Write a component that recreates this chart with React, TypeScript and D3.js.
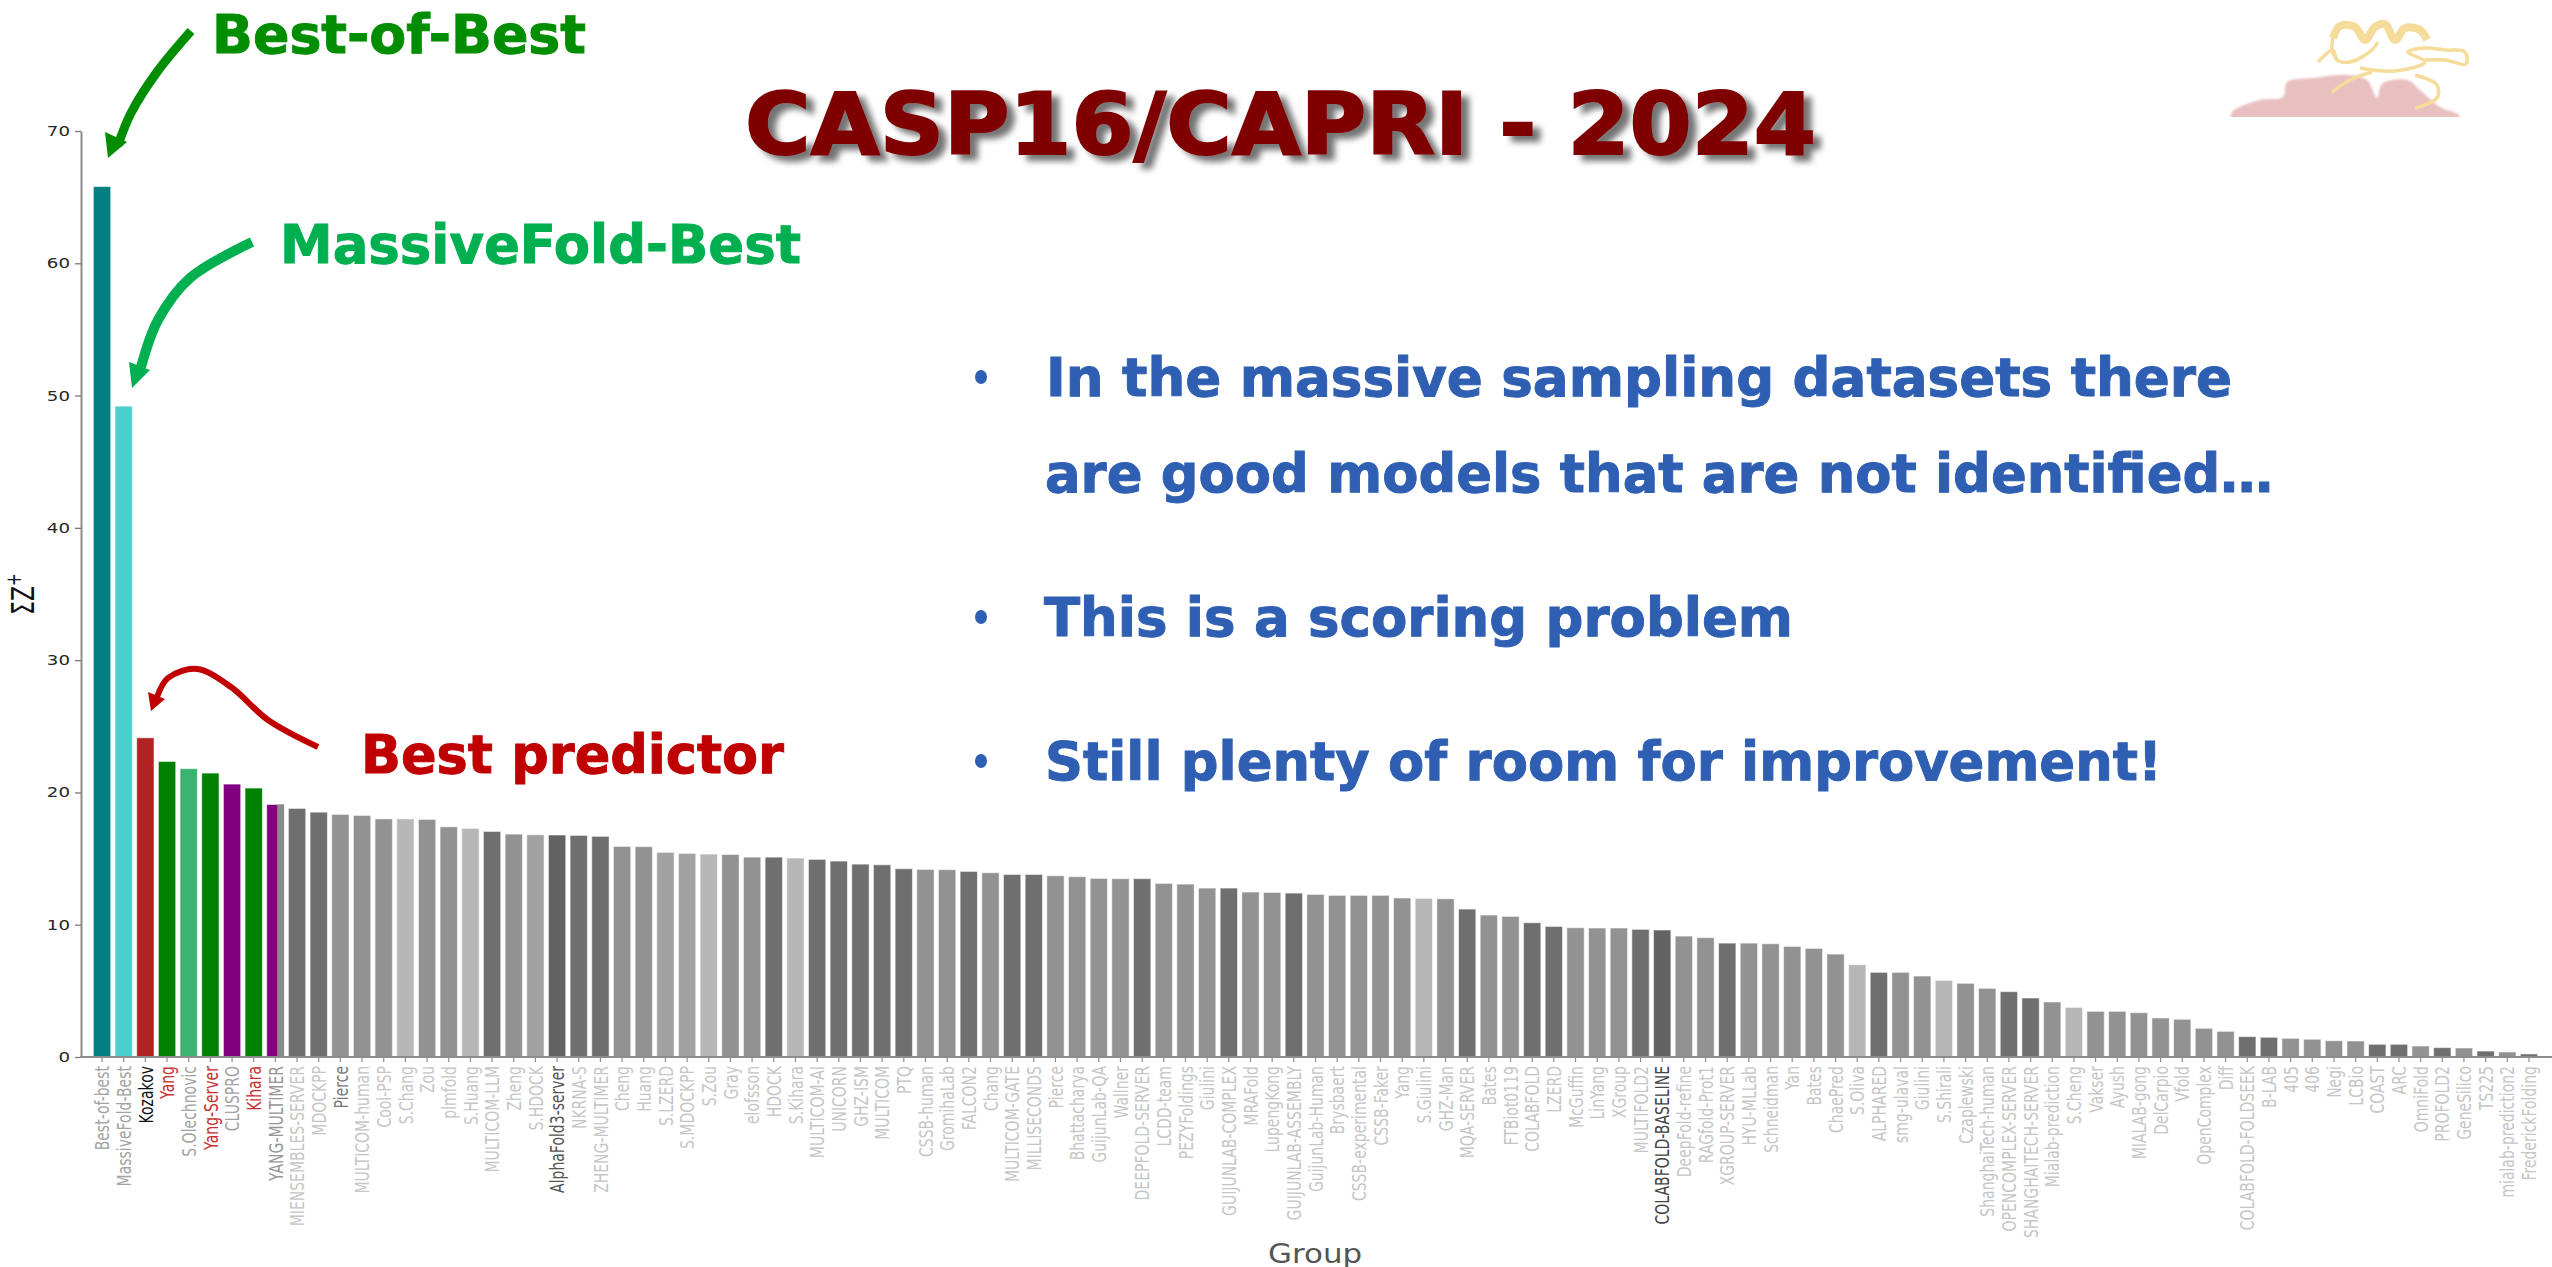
import React, { useEffect, useRef } from 'react';
import * as d3 from 'd3';

const groups = [
  'Best-of-best', 'MassiveFold-Best', 'Kozakov', 'Yang', 'S.Olechnovic', 'Yang-Server', 'CLUSPRO', 'Kihara', 'YANG-MULTIMER', 'MIENSEMBLES-SERVER',
  'MDOCKPP', 'Pierce', 'MULTICOM-human', 'Cool-PSP', 'S.Chang', 'Zou', 'plmfold', 'S.Huang', 'MULTICOM-LLM', 'Zheng',
  'S.HDOCK', 'AlphaFold3-server', 'NKRNA-S', 'ZHENG-MULTIMER', 'Cheng', 'Huang', 'S.LZERD', 'S.MDOCKPP', 'S.Zou', 'Gray',
  'elofsson', 'HDOCK', 'S.Kihara', 'MULTICOM-AI', 'UNICORN', 'GHZ-ISM', 'MULTICOM', 'PTQ', 'CSSB-human', 'GromihaLab',
  'FALCON2', 'Chang', 'MULTICOM-GATE', 'MILLISECONDS', 'Pierce', 'Bhattacharya', 'GuijunLab-QA', 'Wallner', 'DEEPFOLD-SERVER', 'LCDD-team',
  'PEZYFoldings', 'Giulini', 'GUIJUNLAB-COMPLEX', 'MRAFold', 'LupengKong', 'GUIJUNLAB-ASSEMBLY', 'GuijunLab-Human', 'Brysbaert', 'CSSB-experimental', 'CSSB-Faker',
  'Yang', 'S.Giulini', 'GHZ-Man', 'MQA-SERVER', 'Bates', 'FTBiot0119', 'COLABFOLD', 'LZERD', 'McGuffin', 'LinYang',
  'XGroup', 'MULTIFOLD2', 'COLABFOLD-BASELINE', 'DeepFold-refine', 'RAGfold-Prot1', 'XGROUP-SERVER', 'HYU-MLLab', 'Schneidman', 'Yan', 'Bates',
  'ChaePred', 'S.Oliva', 'ALPHARED', 'smg-ulaval', 'Giulini', 'S.Shirali', 'Czaplewski', 'ShanghaiTech-human', 'OPENCOMPLEX-SERVER', 'SHANGHAITECH-SERVER',
  'Mialab-prediction', 'S.Cheng', 'Vakser', 'Ayush', 'MIALAB-gong', 'DelCarpio', 'Vfold', 'OpenComplex', 'Diff', 'COLABFOLD-FOLDSEEK',
  'B-LAB', '405', '406', 'Negi', 'LCBio', 'COAST', 'ARC', 'OmniFold', 'PROFOLD2', 'GeneSilico',
  'TS225', 'mialab-prediction2', 'FrederickFolding',
];

const scores = [
  65.8, 49.2, 24.13, 22.34, 21.8, 21.46, 20.63, 20.33, 19.09, 18.79,
  18.51, 18.34, 18.26, 18.0, 18.0, 17.96, 17.4, 17.28, 17.05, 16.85,
  16.8, 16.78, 16.75, 16.68, 15.92, 15.9, 15.47, 15.39, 15.34, 15.31,
  15.11, 15.11, 15.04, 14.94, 14.81, 14.58, 14.53, 14.23, 14.18, 14.16,
  14.03, 13.93, 13.8, 13.8, 13.7, 13.63, 13.5, 13.48, 13.48, 13.12,
  13.07, 12.77, 12.77, 12.47, 12.44, 12.39, 12.29, 12.22, 12.22, 12.22,
  12.02, 11.99, 11.96, 11.18, 10.73, 10.63, 10.15, 9.87, 9.77, 9.75,
  9.75, 9.65, 9.6, 9.14, 9.02, 8.61, 8.61, 8.56, 8.36, 8.21,
  7.78, 6.98, 6.4, 6.4, 6.12, 5.79, 5.57, 5.19, 4.94, 4.46,
  4.16, 3.75, 3.45, 3.45, 3.35, 2.95, 2.85, 2.17, 1.94, 1.54,
  1.49, 1.41, 1.34, 1.23, 1.21, 0.96, 0.96, 0.83, 0.71, 0.68,
  0.45, 0.38, 0.23,
];

// one letter per bar, ten to a row like groups and scores
const barTones = [
  'TCFGSGPGMd',
  'dmmmlmmldm',
  'axddmmaalm',
  'mdldddddmm',
  'dmddmmmmdm',
  'mmdmmdmmmm',
  'mlmdmmddmm',
  'mdxmmdmmmm',
  'mldmmlmmdd',
  'mlmmmmmmmd',
  'dmmmmddmdm',
  'dmd',
].join('');

const toneColors = {
  T: '#008080', C: '#48d1cc', F: '#b22222', G: '#008000', S: '#3cb371', P: '#800080', M: '#800080',
  x: '#636363', d: '#6f6f6f', m: '#929292', a: '#a2a2a2', l: '#b7b7b7',
};

const labelColors = {
  'Best-of-best': '#a3a3a3', 'MassiveFold-Best': '#a3a3a3', Kozakov: '#111111', 'S.Olechnovic': '#a3a3a3', CLUSPRO: '#a3a3a3',
  'YANG-MULTIMER': '#969696', 'AlphaFold3-server': '#555555', 'COLABFOLD-BASELINE': '#444444',
};
const redLabels = [3, 5, 7];
const midLabels = [11];

const yTicks = [0, 10, 20, 30, 40, 50, 60, 70];

const bulletLines = [
  { text: 'In the massive sampling datasets there', y: 396, x0: 1046, x1: 2232, bullet: true },
  { text: 'are good models that are not identified…', y: 492, x0: 1045, x1: 2273, bullet: false },
  { text: 'This is a scoring problem', y: 636, x0: 1044, x1: 1793, bullet: true },
  { text: 'Still plenty of room for improvement!', y: 780, x0: 1045, x1: 2162, bullet: true },
];

const callouts = [
  { text: 'Best-of-Best', x0: 212, x1: 586, y: 53, size: 53, color: '#008e00' },
  { text: 'MassiveFold-Best', x0: 280, x1: 801, y: 263, size: 53, color: '#00b050' },
  { text: 'Best predictor', x0: 361, x1: 784, y: 773, size: 53, color: '#c00000' },
];

const arrows = [
  { color: '#008e00', width: 9, pts: [[191, 31], [157, 72], [131, 113], [118, 145]], head: [[108, 158], [105, 132], [127, 142]] },
  { color: '#00b050', width: 10, pts: [[252, 242], [190, 278], [158, 320], [141, 367]], head: [[132, 388], [129, 362], [150, 370]] },
  { color: '#c00000', width: 6, pts: [[318, 747], [268, 720], [231, 687], [197, 669], [168, 678], [157, 697]], head: [[151, 711], [148, 692], [165, 699]] },
];

const logoOutline = [
  [2232, 112], [2260, 100], [2283, 97], [2287, 82], [2313, 78], [2347, 75], [2367, 80], [2377, 98], [2382, 84], [2407, 80],
  [2420, 90], [2440, 107], [2459, 115], [2459, 120], [2232, 120],
];
const logoRibbons = [
  [[2333, 38], [2340, 26], [2355, 27], [2365, 40], [2375, 27], [2385, 24], [2395, 40], [2405, 28], [2420, 30], [2427, 40]],
  [[2318, 62], [2333, 50], [2337, 60], [2350, 62], [2372, 50], [2378, 42]],
  [[2333, 38], [2332, 50], [2337, 60]],
  [[2360, 68], [2395, 71], [2425, 62], [2408, 52], [2425, 48], [2445, 50], [2465, 52], [2466, 64], [2445, 60], [2425, 60]],
  [[2332, 92], [2350, 80], [2372, 72]],
  [[2415, 75], [2437, 85], [2437, 98], [2415, 108]],
];

const SANS = '"DejaVu Sans", sans-serif';

const x = d3.scaleBand<number>().domain(d3.range(groups.length)).range([91.2, 2539.8]).paddingInner(0.2).paddingOuter(0.1);
const y = d3.scaleLinear().domain([0, 70]).range([1057, 131]);

function labelColor(name: string, i: number) {
  if (redLabels.includes(i)) return '#c8302e';
  if (midLabels.includes(i)) return '#7a7a7a';
  return labelColors[name] || '#c6c6c6';
}

function Arrow({ color, width, pts, head }) {
  const curve = d3.line().curve(d3.curveCatmullRom.alpha(0.5));
  return (
    <g>
      <path d={curve(pts)} fill="none" stroke={color} strokeWidth={width} />
      <path d={d3.line()(head) + 'Z'} fill={color} />
    </g>
  );
}

export default function App() {
  const yAxisRef = useRef<SVGGElement>(null);
  const xAxisRef = useRef<SVGGElement>(null);

  useEffect(() => {
    const yAxis = d3.select(yAxisRef.current);
    yAxis.call(d3.axisLeft(y).tickValues(yTicks).tickSize(6).tickSizeOuter(0) as any);
    yAxis.select('.domain').attr('stroke', '#8c8c8c').attr('stroke-width', 2);
    yAxis.selectAll('.tick line').attr('stroke', '#777777').attr('stroke-width', 1.3);
    yAxis.selectAll('.tick text')
      .attr('x', 0)
      .attr('transform', 'translate(-11,0) scale(1.3,1)')
      .attr('font-family', SANS).attr('font-size', 14).attr('fill', '#262626');

    const xAxis = d3.select(xAxisRef.current);
    xAxis.call(
      d3.axisBottom(x).tickSize(5).tickSizeOuter(0).tickFormat((i: number) => groups[i]) as any
    );
    xAxis.select('.domain').remove();
    xAxis.selectAll('.tick line').attr('stroke', '#8c8c8c').attr('stroke-width', 1.2);
    xAxis.selectAll('.tick text')
      .attr('x', 0).attr('y', 0).attr('dy', '0.36em')
      .attr('text-anchor', 'end')
      .attr('transform', 'translate(0,9) scale(1.42,1) rotate(-90)')
      .attr('font-family', SANS).attr('font-size', 14)
      .attr('fill', (i: number) => labelColor(groups[i], i));
  }, []);

  return (
    <svg width={2552} height={1267} style={{ position: 'absolute', left: 0, top: 0, display: 'block', background: '#fff' }}>
      <defs>
        <filter id="titleShadow" x="-5%" y="-20%" width="110%" height="150%">
          <feDropShadow dx={8} dy={6} stdDeviation={3} floodColor="#000" floodOpacity={0.55} />
        </filter>
        <filter id="soft"><feGaussianBlur stdDeviation={1} /></filter>
        <clipPath id="logoClip"><rect x={2180} y={0} width={372} height={117} /></clipPath>
      </defs>

      <g clipPath="url(#logoClip)">
        <path d={d3.line().curve(d3.curveCatmullRomClosed)(logoOutline as any)} fill="#e9c0c0" filter="url(#soft)" />
        {logoRibbons.map((pts, i) => (
          <path key={i} d={d3.line().curve(d3.curveCatmullRom)(pts as any)} fill="none" stroke="#f6dc9a" strokeWidth={i === 0 ? 8 : 3.5} />
        ))}
      </g>

      {groups.map((g, i) => (
        <rect key={i} x={x(i)} y={y(scores[i])} width={x.bandwidth()} height={y(0) - y(scores[i])}
          fill={toneColors[barTones[i]]} stroke="#fff" strokeOpacity={0.55} strokeWidth={1} />
      ))}
      {/* YANG-MULTIMER is gray with the purple pasted over its left part */}
      <rect x={x(8) + x.bandwidth() * 0.6} y={y(scores[8])} width={x.bandwidth() * 0.4} height={y(0) - y(scores[8])} fill="#8a8a8a" />

      <g ref={yAxisRef} transform={`translate(81,0)`} />
      <g ref={xAxisRef} transform={`translate(0,${y(0)})`} />
      <line x1={80} x2={2552} y1={y(0)} y2={y(0)} stroke="#8c8c8c" strokeWidth={2} />

      <text transform="translate(34,615) scale(1.45,1) rotate(-90)" fontFamily={SANS} fontSize={22} fill="#111">
        ΣZ<tspan fontSize={15} dy={-9}>+</tspan>
      </text>
      <text x={0} y={0} transform="translate(1268,1263) scale(1.19,1)" fontFamily={SANS} fontSize={26} fill="#555">Group</text>

      {arrows.map((a, i) => <Arrow key={i} {...a} />)}

      {callouts.map(c => (
        <text key={c.text} x={c.x0} y={c.y} textLength={c.x1 - c.x0} lengthAdjust="spacingAndGlyphs"
          fontFamily={SANS} fontWeight="bold" fontSize={c.size} fill={c.color} stroke={c.color} strokeWidth={1}>{c.text}</text>
      ))}

      <text x={745} y={154} textLength={1071} lengthAdjust="spacingAndGlyphs" fontFamily={SANS} fontWeight="bold"
        fontSize={85} fill="#7f0000" stroke="#7f0000" strokeWidth={2} filter="url(#titleShadow)">CASP16/CAPRI - 2024</text>

      {bulletLines.map(b => (
        <g key={b.text}>
          {b.bullet && <ellipse cx={981} cy={b.y - 19} rx={6} ry={7} fill="#2f5fb3" />}
          <text x={b.x0} y={b.y} textLength={b.x1 - b.x0} lengthAdjust="spacingAndGlyphs" fontFamily={SANS}
            fontWeight="bold" fontSize={53} fill="#2f5fb3" stroke="#2f5fb3" strokeWidth={1}>{b.text}</text>
        </g>
      ))}
    </svg>
  );
}
